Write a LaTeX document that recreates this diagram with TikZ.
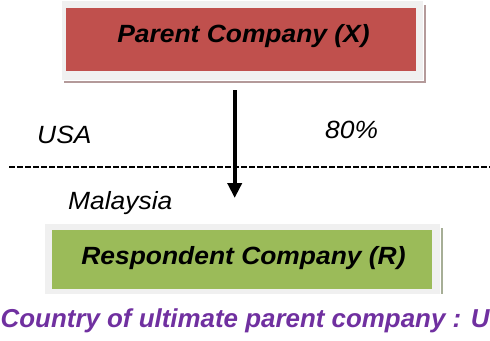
\documentclass[tikz,border=0pt]{standalone}
\usepackage{fontspec}
\setmainfont{Liberation Sans}[FakeStretch=1.06]
\newfontfamily\bottomfont{Liberation Sans}
\usetikzlibrary{arrows.meta}
\definecolor{parentred}{HTML}{C0504D}
\definecolor{respgreen}{HTML}{9BBB59}
\definecolor{framegray}{HTML}{F0F0F0}
\definecolor{redshadow}{HTML}{B49A9A}
\definecolor{greenshadow}{HTML}{A6AE96}
\definecolor{notepurple}{HTML}{7030A0}
\tikzset{
  boxframe/.style={rectangle, fill=framegray, draw=white, line width=0.6bp, inner sep=0, anchor=north west},
  boxshadow/.style={rectangle, inner sep=0, anchor=north west},
  boxfill/.style={rectangle, inner sep=0, anchor=north west},
  boxtext/.style={inner sep=0, anchor=base, font=\fontsize{25}{29}\selectfont\bfseries\itshape},
  plaintext/.style={inner sep=0, anchor=base west, font=\fontsize{25}{29}\selectfont\itshape},
  notetext/.style={inner sep=0, anchor=base west, text=notepurple, font=\bottomfont\fontsize{26}{30}\selectfont\bfseries\itshape},
  ownarrow/.style={line width=4bp, -{Triangle[width=14bp,length=15bp]}},
  border/.style={dash pattern=on 5.5bp off 2.5bp, line width=1.8bp}
}
\begin{document}
\begin{tikzpicture}[x=1bp,y=-1bp]
\useasboundingbox (0,0) rectangle (490,340);
\clip (0,0) rectangle (490,340);
% parent company box
\node[boxshadow, fill=redshadow, minimum width=362bp, minimum height=78bp] (pshadow) at (64,5) {};
\node[boxframe, minimum width=362bp, minimum height=80bp] (pframe) at (61,0) {};
\node[boxfill, fill=parentred, minimum width=350bp, minimum height=63bp] (parent) at (66,8) {};
\node[boxtext] (ptext) at (243.5,42) {Parent Company (X)};
% respondent company box
\node[boxshadow, fill=greenshadow, minimum width=396bp, minimum height=66bp] (rshadow) at (47,228) {};
\node[boxframe, minimum width=396bp, minimum height=71bp] (rframe) at (44,223) {};
\node[boxfill, fill=respgreen, minimum width=380bp, minimum height=59bp] (resp) at (52,230) {};
\node[boxtext] (rtext) at (243.5,264) {Respondent Company (R)};
% labels
\node[plaintext] (usa) at (37,143) {USA};
\node[plaintext] (pct) at (325,138) {80\%};
\node[plaintext] (my) at (68,209) {Malaysia};
\node[notetext] (note) at (0.5,327.5) {Country of ultimate parent company : U};
% border line
\coordinate (bl) at (9,167);
\coordinate (br) at (495,167);
\draw[border] (bl) -- (br);
% ownership arrow
\coordinate (col) at (234.7,0);
\draw[ownarrow, shorten <=7bp, shorten >=25bp] (pshadow.south -| col) -- (rframe.north -| col);
\end{tikzpicture}
\end{document}
